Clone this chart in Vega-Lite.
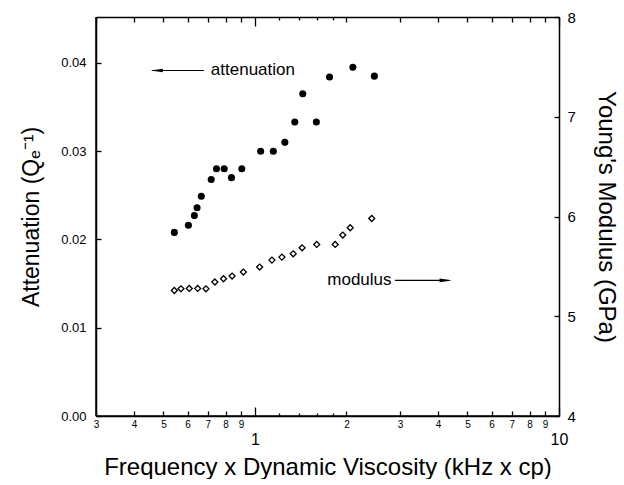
{
  "$schema": "https://vega.github.io/schema/vega-lite/v6.json",
  "width": 463,
  "height": 399,
  "autosize": {"type": "pad"},
  "padding": {"left": 20, "top": 10, "right": 0, "bottom": 0},
  "background": "white",
  "config": {
    "font": "Liberation Sans",
    "view": {"stroke": null},
    "axis": {
      "domain": true, "domainColor": "black", "domainWidth": 1.5,
      "tickColor": "black", "labelColor": "black", "titleColor": "black",
      "grid": false, "titleFontWeight": "normal", "labelFont": "Liberation Sans", "titleFont": "Liberation Sans",
      "tickWidth": 1.3
    }
  },
  "datasets": {
    "att": [
      {"f": 0.543, "q": 0.0208}, {"f": 0.604, "q": 0.0216}, {"f": 0.632, "q": 0.0227},
      {"f": 0.645, "q": 0.0236}, {"f": 0.666, "q": 0.0249}, {"f": 0.718, "q": 0.0268},
      {"f": 0.747, "q": 0.0280}, {"f": 0.792, "q": 0.0280}, {"f": 0.837, "q": 0.0270},
      {"f": 0.905, "q": 0.0280}, {"f": 1.044, "q": 0.0300}, {"f": 1.149, "q": 0.0300},
      {"f": 1.254, "q": 0.0310}, {"f": 1.352, "q": 0.0333}, {"f": 1.436, "q": 0.0365},
      {"f": 1.592, "q": 0.0333}, {"f": 1.759, "q": 0.0384}, {"f": 2.099, "q": 0.0395},
      {"f": 2.470, "q": 0.0385}
    ],
    "mod": [
      {"f": 0.543, "m": 5.258}, {"f": 0.571, "m": 5.275}, {"f": 0.608, "m": 5.279},
      {"f": 0.648, "m": 5.279}, {"f": 0.690, "m": 5.275}, {"f": 0.738, "m": 5.343},
      {"f": 0.788, "m": 5.376}, {"f": 0.841, "m": 5.403}, {"f": 0.916, "m": 5.443},
      {"f": 1.036, "m": 5.493}, {"f": 1.137, "m": 5.563}, {"f": 1.226, "m": 5.593},
      {"f": 1.336, "m": 5.626}, {"f": 1.429, "m": 5.686}, {"f": 1.596, "m": 5.72},
      {"f": 1.836, "m": 5.72}, {"f": 1.944, "m": 5.814}, {"f": 2.057, "m": 5.887},
      {"f": 2.422, "m": 5.98}
    ]
  },
  "layer": [
    {
      "layer": [
        {
          "data": {"name": "att"},
          "mark": {"type": "point", "shape": "circle", "filled": true, "color": "black", "size": 50, "opacity": 1},
          "encoding": {
            "x": {
              "field": "f", "type": "quantitative",
              "scale": {"type": "log", "domain": [0.3, 10], "nice": false},
              "axis": {
                "orient": "bottom",
                "values": [0.3, 0.4, 0.5, 0.6, 0.7, 0.8, 0.9, 1, 1.2, 1.4, 1.6, 1.8, 2, 3, 4, 5, 6, 7, 8, 9, 10],
                "labelExpr": "indexof([1.2,1.4,1.6,1.8], datum.value) >= 0 ? '' : (datum.value < 0.95 ? format(datum.value*10, '.0f') : format(datum.value, '.0f'))",
                "labelFontSize": {"condition": {"test": "datum.value == 1 || datum.value == 10", "value": 16}, "value": 10},
                "labelPadding": {"condition": {"test": "datum.value == 1 || datum.value == 10", "value": 24}, "value": 8},
                "tickSize": {"condition": [{"test": "datum.value == 1 || datum.value == 10", "value": -9}, {"test": "datum.value > 1 && datum.value < 2", "value": -3}], "value": -5},
                "labelFlush": false, "labelOverlap": false, "labelBound": false,
                "title": "Frequency x Dynamic Viscosity (kHz x cp)",
                "titleFontSize": 24, "titlePadding": 8
              }
            },
            "y": {
              "field": "q", "type": "quantitative",
              "scale": {"domain": [0, 0.0452], "nice": false, "zero": false},
              "axis": {
                "orient": "left", "values": [0, 0.01, 0.02, 0.03, 0.04], "format": ".2f",
                "labelFontSize": 13, "tickSize": -5, "labelPadding": 15,
                "title": "Attenuation (Qₑ⁻¹)", "titleFontSize": 23, "titlePadding": 17
              }
            }
          }
        },
        {
          "data": {"values": [{}]},
          "mark": {"type": "rule", "color": "black", "strokeWidth": 1.5},
          "encoding": {"x": {"datum": 0.3}}
        },
        {
          "data": {"values": [{}]},
          "mark": {"type": "rule", "color": "black", "strokeWidth": 1.5},
          "encoding": {"y": {"datum": 0}}
        },
        {
          "data": {"values": [{}]},
          "mark": {"type": "rule", "color": "black", "strokeWidth": 1.2},
          "encoding": {"x": {"datum": 0.46}, "x2": {"datum": 0.6795}, "y": {"datum": 0.03914}}
        },
        {
          "data": {"values": [{}]},
          "mark": {"type": "point", "shape": "M-1,0L1,-0.3L1,0.3Z", "filled": true, "color": "black", "size": 150, "opacity": 1},
          "encoding": {"x": {"datum": 0.475}, "y": {"datum": 0.03914}}
        },
        {
          "data": {"values": [{}]},
          "mark": {"type": "text", "text": "attenuation", "align": "left", "baseline": "middle", "fontSize": 17, "color": "black", "font": "Liberation Sans"},
          "encoding": {"x": {"datum": 0.716}, "y": {"datum": 0.03914}}
        }
      ]
    },
    {
      "layer": [
        {
          "data": {"name": "mod"},
          "mark": {"type": "point", "shape": "diamond", "filled": false, "color": "black", "size": 36, "strokeWidth": 1.3, "opacity": 1},
          "encoding": {
            "x": {
              "field": "f", "type": "quantitative",
              "scale": {"type": "log", "domain": [0.3, 10], "nice": false},
              "axis": {
                "orient": "top",
                "values": [0.3, 0.4, 0.5, 0.6, 0.7, 0.8, 0.9, 1, 1.2, 1.4, 1.6, 1.8, 2, 3, 4, 5, 6, 7, 8, 9, 10],
                "labels": false,
                "tickSize": {"condition": [{"test": "datum.value == 1 || datum.value == 10", "value": -9}, {"test": "datum.value > 1 && datum.value < 2", "value": -3}], "value": -5},
                "title": null
              }
            },
            "y": {
              "field": "m", "type": "quantitative",
              "scale": {"domain": [4, 8], "nice": false, "zero": false},
              "axis": {
                "orient": "right", "values": [4, 5, 6, 7, 8], "format": "d",
                "labelFontSize": 15, "tickSize": -5, "labelPadding": 13,
                "title": "Young's Modulus (GPa)", "titleFontSize": 24, "titlePadding": 18, "titleAngle": 90
              }
            }
          }
        },
        {
          "data": {"values": [{}]},
          "mark": {"type": "rule", "color": "black", "strokeWidth": 1.2},
          "encoding": {"x": {"datum": 2.886}, "x2": {"datum": 4.35}, "y": {"datum": 5.359}}
        },
        {
          "data": {"values": [{}]},
          "mark": {"type": "point", "shape": "M1,0L-1,-0.3L-1,0.3Z", "filled": true, "color": "black", "size": 150, "opacity": 1},
          "encoding": {"x": {"datum": 4.24}, "y": {"datum": 5.359}}
        },
        {
          "data": {"values": [{}]},
          "mark": {"type": "text", "text": "modulus", "align": "left", "baseline": "middle", "fontSize": 17, "color": "black", "font": "Liberation Sans"},
          "encoding": {"x": {"datum": 1.729}, "y": {"datum": 5.359}}
        }
      ]
    }
  ],
  "resolve": {"scale": {"y": "independent"}, "axis": {"x": "independent"}}
}
